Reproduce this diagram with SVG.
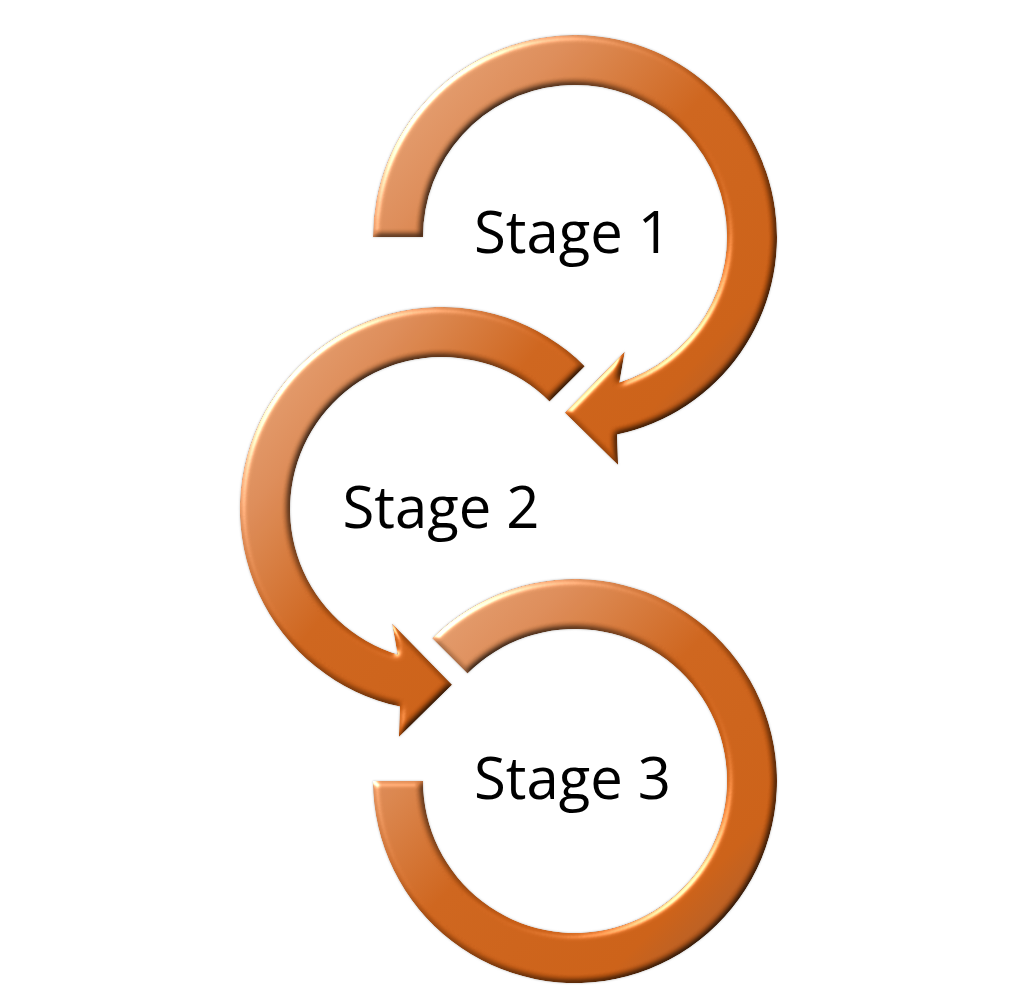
<svg xmlns="http://www.w3.org/2000/svg" width="1018" height="986" viewBox="0 0 1018 986">
  <defs>
    <linearGradient id="ringGrad" x1="0" y1="0" x2="1" y2="1">
      <stop offset="0" stop-color="#e2a67c"/>
      <stop offset="0.25" stop-color="#d68652"/>
      <stop offset="0.48" stop-color="#c75e17"/>
      <stop offset="0.78" stop-color="#c55a11"/>
      <stop offset="1" stop-color="#8c5537"/>
    </linearGradient>
    <filter id="bevel" x="-10%" y="-10%" width="120%" height="120%" color-interpolation-filters="sRGB">
      <feGaussianBlur in="SourceAlpha" stdDeviation="3" result="b"/>
      <feDiffuseLighting in="b" surfaceScale="3" diffuseConstant="1.3" lighting-color="#ffffff" result="d">
        <feDistantLight azimuth="225" elevation="50"/>
      </feDiffuseLighting>
      <feComposite in="SourceGraphic" in2="d" operator="arithmetic" k1="1" k2="0" k3="0" k4="0" result="lit"/>
      <feSpecularLighting in="b" surfaceScale="3" specularConstant="0.7" specularExponent="25" lighting-color="#ffffff" result="s">
        <feDistantLight azimuth="225" elevation="35"/>
      </feSpecularLighting>
      <feComposite in="s" in2="SourceAlpha" operator="in" result="s2"/>
      <feComposite in="lit" in2="s2" operator="arithmetic" k1="0" k2="1" k3="1" k4="0" result="out"/>
      <feComposite in="out" in2="SourceAlpha" operator="in" result="shape"/>
      <feGaussianBlur in="SourceAlpha" stdDeviation="1.2" result="sh"/>
      <feFlood flood-color="#999999" flood-opacity="0.6"/>
      <feComposite in2="sh" operator="in" result="shadow"/>
      <feMerge>
        <feMergeNode in="shadow"/>
        <feMergeNode in="shape"/>
      </feMerge>
    </filter>
  </defs>
  <style>
    .ring { fill: url(#ringGrad); filter: url(#bevel); }
    .label { font-family: "Open Sans", "Liberation Sans", sans-serif; font-size: 58px; fill: #000000; text-anchor: middle; }
  </style>
  <rect width="1018" height="986" fill="#ffffff"/>
  <g id="stage1">
    <path class="ring" d="M373,237 A202,202 0 1 1 617,434.6 L618.1,465 L564.9,412.7 L624.8,351.6 L619.4,382.4 A152,152 0 1 0 423,237 Z"/>
    <text class="label" x="572.5" y="253">Stage 1</text>
  </g>
  <g id="stage2">
    <path class="ring" d="M584.8,366.2 A202,202 0 1 0 400,706.6 L398.9,737 L452.1,684.7 L392.2,623.6 L397.6,654.4 A152,152 0 1 1 549.5,401.5 Z"/>
    <text class="label" x="441" y="528">Stage 2</text>
  </g>
  <g id="stage3">
    <path class="ring" d="M432.2,638.2 A202,202 0 1 1 373,781 L423,781 A152,152 0 1 0 467.5,673.5 Z"/>
    <text class="label" x="572.5" y="799">Stage 3</text>
  </g>
</svg>
